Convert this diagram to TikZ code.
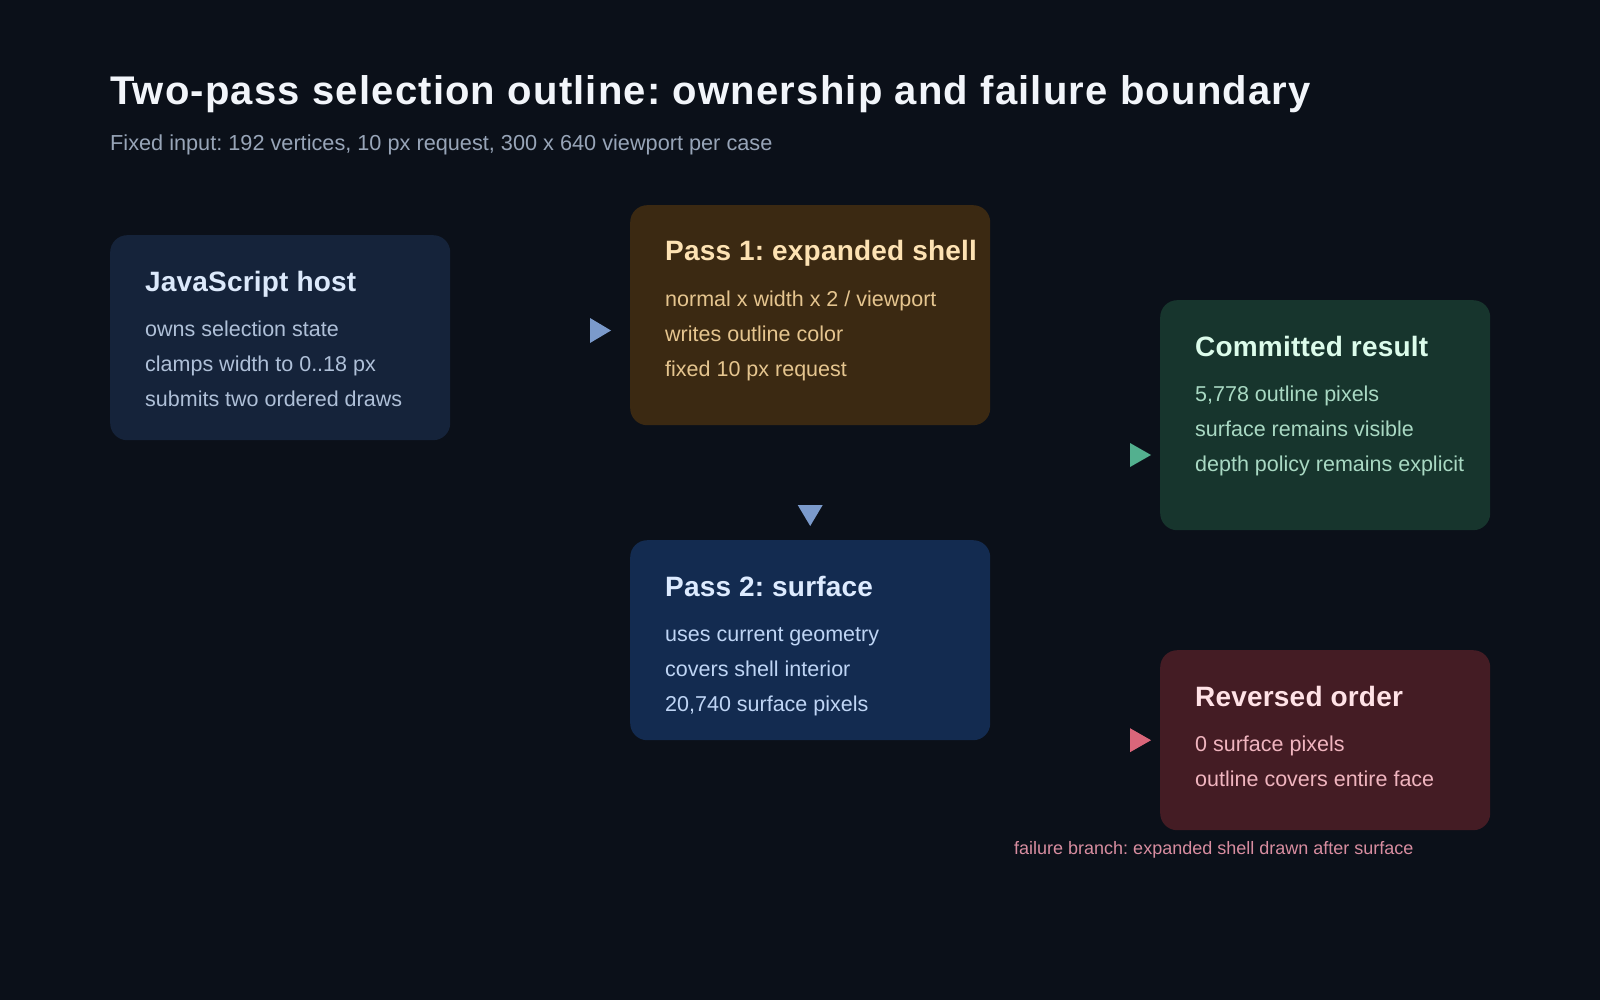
\documentclass[tikz,border=0pt]{standalone}
\usepackage{fontspec}
\setmainfont{Liberation Sans}
\usepackage{tikz}
\usetikzlibrary{positioning, calc}
\frenchspacing

\definecolor{bgc}{HTML}{0B1019}
\definecolor{titlec}{HTML}{F2F5FA}
\definecolor{subc}{HTML}{98A5B8}
\definecolor{hostfill}{HTML}{15233A}
\definecolor{hosthead}{HTML}{DCE9FB}
\definecolor{hostbody}{HTML}{AFC0D8}
\definecolor{shellfill}{HTML}{3B2912}
\definecolor{shellhead}{HTML}{FDE2B3}
\definecolor{shellbody}{HTML}{E5C58F}
\definecolor{surffill}{HTML}{132B50}
\definecolor{surfhead}{HTML}{DDEBFF}
\definecolor{surfbody}{HTML}{BFD5F5}
\definecolor{okfill}{HTML}{17352D}
\definecolor{okhead}{HTML}{DCFCEB}
\definecolor{okbody}{HTML}{A9D9C3}
\definecolor{badfill}{HTML}{441C24}
\definecolor{badhead}{HTML}{FFE2E6}
\definecolor{badbody}{HTML}{F0B5BF}
\definecolor{blueh}{HTML}{7B9ACB}
\definecolor{greenh}{HTML}{53B08F}
\definecolor{redh}{HTML}{DA667A}
\definecolor{failc}{HTML}{D88DA0}

\begin{document}
\begin{tikzpicture}[x=1pt, y=-1pt,
	card/.style={anchor=north west, rounded corners=17pt, inner sep=0pt},
	head/.style={anchor=base west, inner sep=0pt, text=#1, font=\fontsize{28}{32}\selectfont\bfseries\addfontfeature{LetterSpace=0.7}},
	txt/.style={anchor=base west, inner sep=0pt, text=#1, font=\fontsize{21.5}{26}\selectfont},
	arrowhead/.style={fill=#1}]
	\fill[bgc] (0,0) rectangle (1600,1000);
	\useasboundingbox (0,0) rectangle (1600,1000);
	
	\node[anchor=base west, inner sep=0pt, text=titlec, font=\fontsize{40}{46}\selectfont\bfseries\addfontfeature{LetterSpace=3}] (title) at (110,105) {Two-pass selection outline: ownership and failure boundary};
	\node[anchor=base west, inner sep=0pt, text=subc, font=\fontsize{21.7}{26}\selectfont] (subtitle) at (110,151) {Fixed input: 192 vertices, 10 px request, 300 x 640 viewport per case};
	
	% host
	\node[card, fill=hostfill, minimum width=340pt, minimum height=205pt] (host) at (110,235) {};
	\node[head=hosthead] (hostT) at ($(host.north west)+(35,56)$) {JavaScript host};
	\node[txt=hostbody] (host1) at ($(host.north west)+(35,101)$) {owns selection state};
	\node[txt=hostbody] (host2) at ($(host.north west)+(35,136)$) {clamps width to 0..18 px};
	\node[txt=hostbody] (host3) at ($(host.north west)+(35,171)$) {submits two ordered draws};
	
	% pass 1
	\node[card, fill=shellfill, minimum width=360pt, minimum height=220pt] (shell) at (630,205) {};
	\node[head=shellhead] (shellT) at ($(shell.north west)+(35,56)$) {Pass 1: expanded shell};
	\node[txt=shellbody] (shell1) at ($(shell.north west)+(35,101)$) {normal x width x 2 / viewport};
	\node[txt=shellbody] (shell2) at ($(shell.north west)+(35,136)$) {writes outline color};
	\node[txt=shellbody] (shell3) at ($(shell.north west)+(35,171)$) {fixed 10 px request};
	
	% pass 2
	\node[card, fill=surffill, minimum width=360pt, minimum height=200pt] (surf) at (630,540) {};
	\node[head=surfhead] (surfT) at ($(surf.north west)+(35,56)$) {Pass 2: surface};
	\node[txt=surfbody] (surf1) at ($(surf.north west)+(35,101)$) {uses current geometry};
	\node[txt=surfbody] (surf2) at ($(surf.north west)+(35,136)$) {covers shell interior};
	\node[txt=surfbody] (surf3) at ($(surf.north west)+(35,171)$) {20,740 surface pixels};
	
	% committed
	\node[card, fill=okfill, minimum width=330pt, minimum height=230pt] (ok) at (1160,300) {};
	\node[head=okhead] (okT) at ($(ok.north west)+(35,56)$) {Committed result};
	\node[txt=okbody] (ok1) at ($(ok.north west)+(35,101)$) {5,778 outline pixels};
	\node[txt=okbody] (ok2) at ($(ok.north west)+(35,136)$) {surface remains visible};
	\node[txt=okbody] (ok3) at ($(ok.north west)+(35,171)$) {depth policy remains explicit};
	
	% reversed
	\node[card, fill=badfill, minimum width=330pt, minimum height=180pt] (bad) at (1160,650) {};
	\node[head=badhead] (badT) at ($(bad.north west)+(35,56)$) {Reversed order};
	\node[txt=badbody] (bad1) at ($(bad.north west)+(35,101)$) {0 surface pixels};
	\node[txt=badbody] (bad2) at ($(bad.north west)+(35,136)$) {outline covers entire face};
	\node[anchor=base west, inner sep=0pt, text=failc, font=\fontsize{18}{22}\selectfont] (fail) at ($(bad.south west)+(-146,24)$) {failure branch: expanded shell drawn after surface};
	
	% arrowheads
	\coordinate (a1) at ($(shell.north west)+(-19,125.5)$);
	\coordinate (a2) at ($(surf.north)+(0,-14)$);
	\coordinate (a3) at ($(ok.north west)+(-9,155)$);
	\coordinate (a4) at ($(bad.west)+(-9,0)$);
	\fill[arrowhead=blueh] (a1) -- ++(-21,-12.5) -- ++(0,25) -- cycle;
	\fill[arrowhead=blueh] (a2) -- ++(-12.5,-21) -- ++(25,0) -- cycle;
	\fill[arrowhead=greenh] (a3) -- ++(-21,-12) -- ++(0,24) -- cycle;
	\fill[arrowhead=redh] (a4) -- ++(-21,-12) -- ++(0,24) -- cycle;
\end{tikzpicture}
\end{document}
